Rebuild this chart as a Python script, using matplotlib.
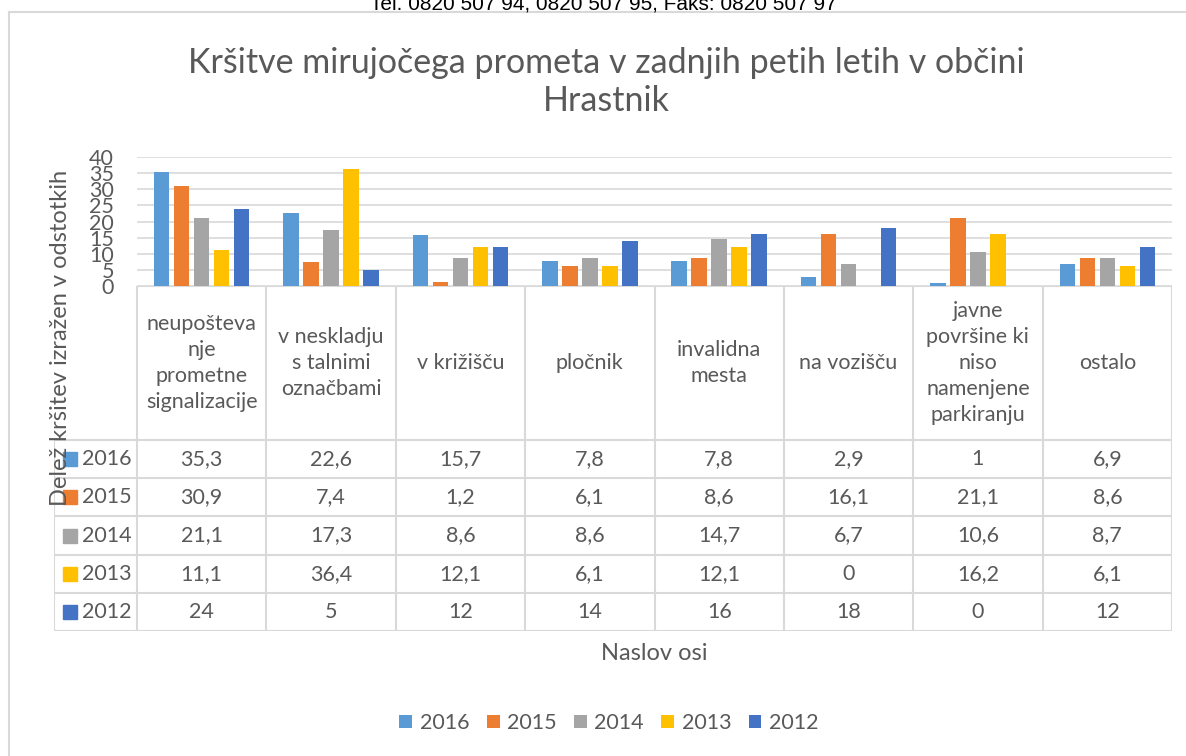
import matplotlib.pyplot as plt
from matplotlib.lines import Line2D
from matplotlib.patches import Rectangle

# data
categories = [
    "neupošteva\nnje\nprometne\nsignalizacije",
    "v neskladju\ns talnimi\noznačbami",
    "v križišču",
    "pločnik",
    "invalidna\nmesta",
    "na vozišču",
    "javne\npovršine ki\nniso\nnamenjene\nparkiranju",
    "ostalo",
]
years = ["2016", "2015", "2014", "2013", "2012"]
v2016 = [35.3, 22.6, 15.7, 7.8, 7.8, 2.9, 1, 6.9]
v2015 = [30.9, 7.4, 1.2, 6.1, 8.6, 16.1, 21.1, 8.6]
v2014 = [21.1, 17.3, 8.6, 8.6, 14.7, 6.7, 10.6, 8.7]
v2013 = [11.1, 36.4, 12.1, 6.1, 12.1, 0, 16.2, 6.1]
v2012 = [24, 5, 12, 14, 16, 18, 0, 12]
series = [v2016, v2015, v2014, v2013, v2012]
colors = ["#5B9BD5", "#ED7D31", "#A5A5A5", "#FFC000", "#4472C4"]
yticks = [0, 5, 10, 15, 20, 25, 30, 35, 40]

W, H = 1186, 756
TXT = "#595959"
GRID = "#D9D9D9"
FS = 15.5
plt.rcParams["font.family"] = ["Lato", "DejaVu Sans"]


def fx(x):
    return x / W


def fy(y):
    return 1 - y / H


fig = plt.figure(figsize=(W / 100, H / 100), dpi=100)

# page header (cut off at top, as in the original page)
fig.text(fx(603), fy(9), "Tel. 0820 507 94, 0820 507 95, Faks: 0820 507 97",
         ha="center", va="baseline", fontsize=15, family="Liberation Sans",
         color="black")

# chart frame
fig.add_artist(Line2D([fx(9), fx(9)], [fy(12), fy(H + 5)], color=GRID,
                      lw=1.5, transform=fig.transFigure))
fig.add_artist(Line2D([fx(9), fx(W + 5)], [fy(12), fy(12)], color=GRID,
                      lw=1.5, transform=fig.transFigure))

# title
fig.text(fx(606), fy(82), "Kršitve mirujočega prometa v zadnjih petih letih v občini\nHrastnik",
         ha="center", va="center", fontsize=24.5, color=TXT, linespacing=1.2)

# bar plot area
left, right, top, bottom = 137, 1172, 157, 286
ax = fig.add_axes([fx(left), fy(bottom), fx(right - left), (bottom - top) / H])
n = len(categories)
step = 0.1546
bars = []
for j, (vals, c) in enumerate(zip(series, colors)):
    xs = [i + (j - 2) * step for i in range(n)]
    b = ax.bar(xs, vals, width=0.12, color=c, label=years[j], zorder=3)
    bars.append(b)
ax.set_xlim(-0.5, n - 0.5)
ax.set_ylim(0, 40)
ax.set_yticks(yticks)
ax.set_xticks([])
ax.yaxis.grid(True, color=GRID, lw=1.2, zorder=0)
ax.tick_params(axis="y", length=0, pad=16.5, labelsize=FS, labelcolor=TXT)
for s in ax.spines.values():
    s.set_visible(False)

# data table
t_left, t_bottom = 54, 631
hdr_bottom = 440
row_h = (t_bottom - hdr_bottom) / len(years)
col_w = (right - left) / n
axt = fig.add_axes([fx(t_left), fy(t_bottom), fx(right - t_left), (t_bottom - bottom) / H])
axt.set_xlim(t_left, right)
axt.set_ylim(t_bottom, bottom)
axt.axis("off")
lk = dict(color=GRID, lw=1.5, solid_capstyle="projecting")
# horizontal lines
axt.plot([left, right], [bottom, bottom], **lk)
for r in range(len(years) + 1):
    y = hdr_bottom + r * row_h
    axt.plot([t_left, right], [y, y], **lk)
# vertical lines
axt.plot([t_left, t_left], [hdr_bottom, t_bottom], **lk)
for i in range(n + 1):
    x = left + i * col_w
    axt.plot([x, x], [bottom, t_bottom], **lk)

for i, cat in enumerate(categories):
    axt.text(left + (i + 0.5) * col_w, (bottom + hdr_bottom) / 2, cat,
             ha="center", va="center", fontsize=FS, color=TXT, linespacing=1.37)


def fmt(v):
    return f"{v:g}".replace(".", ",")


for r, (yr, vals, c) in enumerate(zip(years, series, colors)):
    yc = hdr_bottom + (r + 0.5) * row_h
    axt.add_patch(Rectangle((63, yc - 7), 14, 14, color=c))
    axt.text(82, yc, yr, ha="left", va="center", fontsize=FS, color=TXT)
    for i, v in enumerate(vals):
        axt.text(left + (i + 0.5) * col_w, yc, fmt(v), ha="center",
                 va="center", fontsize=FS, color=TXT)

# axis titles
fig.text(fx(61), fy(338), "Delež kršitev izražen v odstotkih", rotation=90,
         ha="center", va="center", fontsize=17, color=TXT)
fig.text(fx(654), fy(653), "Naslov osi", ha="center", va="center",
         fontsize=17, color=TXT)

# legend
fig.legend(handles=bars, labels=years, loc="center",
           bbox_to_anchor=(fx(609), fy(723)), ncol=5, frameon=False,
           fontsize=FS, labelcolor=TXT, handlelength=0.6, handleheight=0.6,
           handletextpad=0.35, columnspacing=0.8)

fig.savefig("out.png", dpi=100)
